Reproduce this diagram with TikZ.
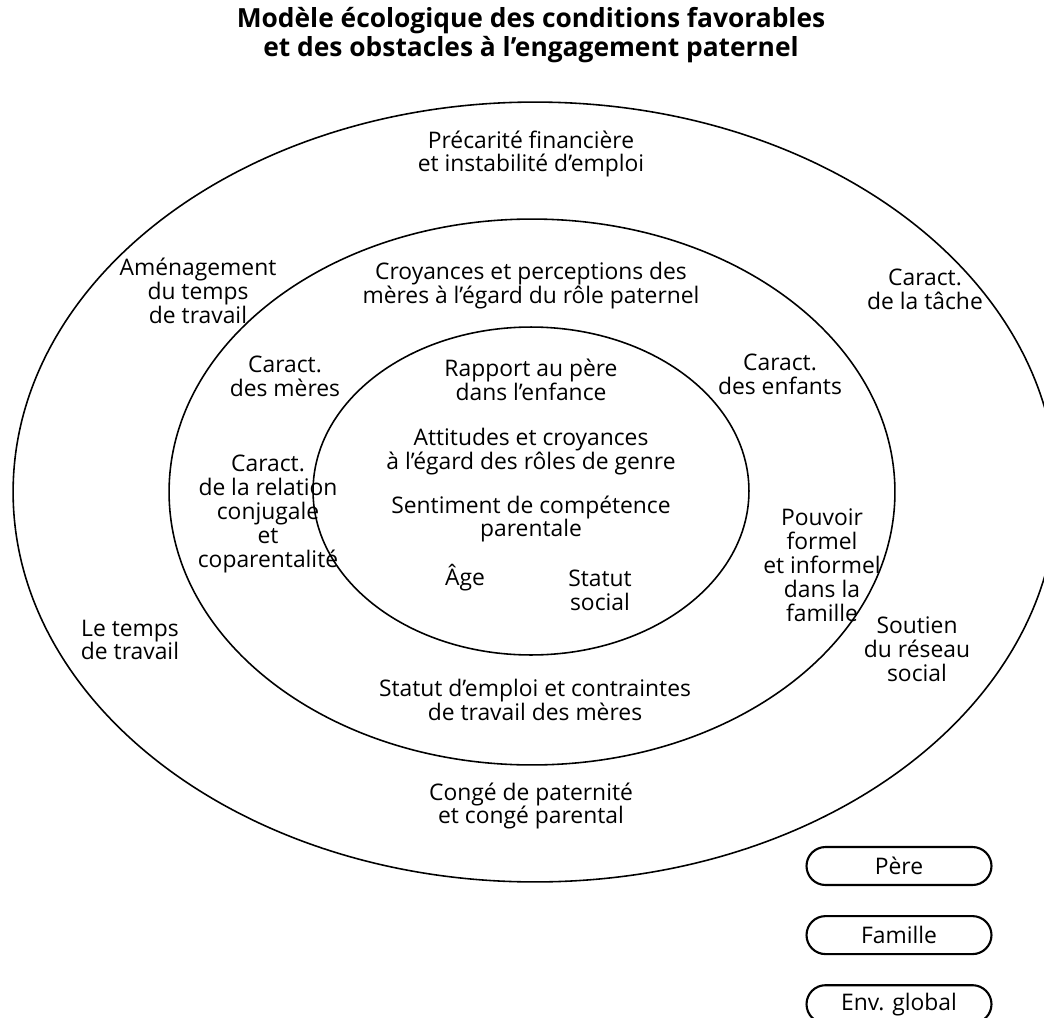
\documentclass[tikz,border=0pt]{standalone}
\usepackage{fontspec}
\setmainfont{Open Sans}
\usetikzlibrary{positioning, shapes.misc}

\tikzset{
  anneau/.style={line width=0.9pt},
  lbl/.style={align=center, inner sep=0pt, font=\fontsize{13}{13.6}\selectfont},
  titre/.style={align=center, inner sep=0pt, font=\fontsize{15}{14.4}\selectfont\bfseries},
  legende/.style={draw, line width=1.2pt, rounded rectangle, minimum width=3.7cm,
    minimum height=0.76cm, inner sep=0pt, font=\fontsize{13}{13.6}\selectfont},
}

\begin{document}
\begin{tikzpicture}[x=0.02cm, y=-0.02cm]
  \useasboundingbox (0,0) rectangle (1044,1017);

  % titre
  \node[titre] (titre) at (531,35) {Modèle écologique des conditions favorables\\et des obstacles à l’engagement paternel};

  % les trois anneaux
  \draw[anneau] (535,492) ellipse [x radius=10.44cm, y radius=7.8cm];
  \draw[anneau] (532,492) ellipse [x radius=7.26cm, y radius=5.46cm];
  \draw[anneau] (531,491) ellipse [x radius=4.36cm, y radius=3.28cm];

  % environnement global
  \node[lbl] (precarite) at (531,154) {Précarité financière\\et instabilité d’emploi};
  \node[lbl] (amenag) at (198,291) {Aménagement\\du temps\\de travail};
  \node[lbl] (tache) at (925,289) {Caract.\\de la tâche};
  \node[lbl] (tempstrav) at (130,640) {Le temps\\de travail};
  \node[lbl] (soutien) at (917,649) {Soutien\\du réseau\\social};
  \node[lbl] (conge) at (531,806) {Congé de paternité\\et congé parental};

  % famille
  \node[lbl] (croyances) at (531,286) {Croyances et perceptions des\\mères à l’égard du rôle paternel};
  \node[lbl] (meres) at (285,376) {Caract.\\des mères};
  \node[lbl] (enfants) at (780,374) {Caract.\\des enfants};
  \node[lbl] (relation) at (268,514) {Caract.\\de la relation\\conjugale\\et\\coparentalité};
  \node[lbl] (pouvoir) at (822,565) {Pouvoir\\formel\\et informel\\dans la\\famille};
  \node[lbl] (emploi) at (535,700) {Statut d’emploi et contraintes\\de travail des mères};

  % pere
  \node[lbl] (rapport) at (531,380) {Rapport au père\\dans l’enfance};
  \node[lbl] (attitudes) at (531,452) {Attitudes et croyances\\à l’égard des rôles de genre};
  \node[lbl] (sentiment) at (531,519) {Sentiment de compétence\\parentale};
  \node[lbl] (age) at (465,578) {Âge};
  \node[lbl] (statut) at (600,590) {Statut\\social};

  % legende
  \node[legende] (lpere) at (899,866) {Père};
  \node[legende, below=0.58cm of lpere] (lfamille) {Famille};
  \node[legende, below=0.58cm of lfamille] (lenv) {Env. global};
\end{tikzpicture}
\end{document}
